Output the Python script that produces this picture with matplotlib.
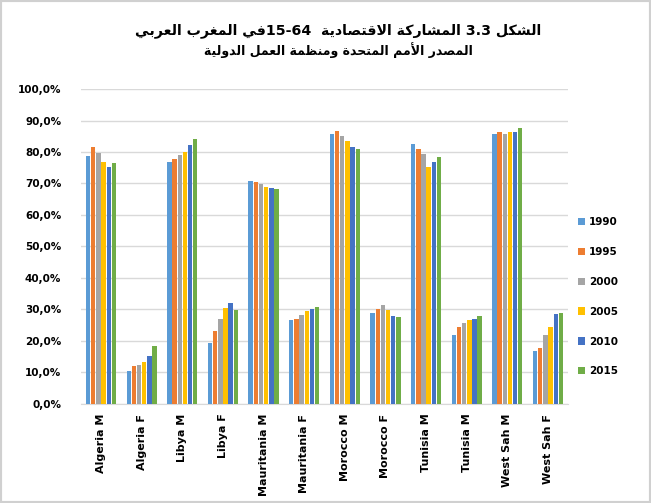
import re
import matplotlib
matplotlib.use('Agg')
import matplotlib.pyplot as plt
import numpy as np

# data (labour force participation, share)
CATEGORIES = ['Algeria M', 'Algeria F', 'Libya M', 'Libya F', 'Mauritania M', 'Mauritania F',
              'Morocco M', 'Morocco F', 'Tunisia M', 'Tunisia M', 'West Sah M', 'West Sah F']
YEARS = ['1990', '1995', '2000', '2005', '2010', '2015']
V1990 = [78.7, 10.3, 76.9, 19.3, 70.8, 26.5, 85.7, 28.8, 82.4, 21.8, 85.7, 16.8]
V1995 = [81.7, 11.9, 77.7, 23.0, 70.6, 27.1, 86.8, 30.0, 81.0, 24.3, 86.5, 17.7]
V2000 = [79.8, 12.4, 79.0, 26.9, 69.7, 28.1, 85.2, 31.3, 79.4, 25.6, 85.7, 21.8]
V2005 = [76.9, 13.4, 80.1, 30.4, 69.0, 29.5, 83.6, 29.8, 75.1, 26.5, 86.5, 24.5]
V2010 = [75.3, 15.3, 82.1, 32.0, 68.7, 30.3, 81.7, 27.9, 76.8, 27.1, 86.2, 28.5]
V2015 = [76.4, 18.4, 84.0, 29.8, 68.3, 30.9, 81.0, 27.6, 78.4, 27.9, 87.5, 29.0]
SERIES = [V1990, V1995, V2000, V2005, V2010, V2015]
COLORS = ['#5B9BD5', '#ED7D31', '#A5A5A5', '#FFC000', '#4472C4', '#70AD47']
YTICKS = [0, 10, 20, 30, 40, 50, 60, 70, 80, 90, 100]

TITLE = 'الشكل 3.3 المشاركة الاقتصادية  15-64في المغرب العربي'
SUBTITLE = 'المصدر الأمم المتحدة ومنظمة العمل الدولية'

# minimal Arabic shaping: (isolated, final, initial, medial)
FORMS = {
    'ا': (0xFE8D, 0xFE8E, None, None), 'أ': (0xFE83, 0xFE84, None, None),
    'ب': (0xFE8F, 0xFE90, 0xFE91, 0xFE92), 'ة': (0xFE93, 0xFE94, None, None),
    'ت': (0xFE95, 0xFE96, 0xFE97, 0xFE98), 'ح': (0xFEA1, 0xFEA2, 0xFEA3, 0xFEA4),
    'د': (0xFEA9, 0xFEAA, None, None), 'ر': (0xFEAD, 0xFEAE, None, None),
    'ش': (0xFEB5, 0xFEB6, 0xFEB7, 0xFEB8), 'ص': (0xFEB9, 0xFEBA, 0xFEBB, 0xFEBC),
    'ظ': (0xFEC5, 0xFEC6, 0xFEC7, 0xFEC8), 'ع': (0xFEC9, 0xFECA, 0xFECB, 0xFECC),
    'غ': (0xFECD, 0xFECE, 0xFECF, 0xFED0), 'ف': (0xFED1, 0xFED2, 0xFED3, 0xFED4),
    'ق': (0xFED5, 0xFED6, 0xFED7, 0xFED8), 'ك': (0xFED9, 0xFEDA, 0xFEDB, 0xFEDC),
    'ل': (0xFEDD, 0xFEDE, 0xFEDF, 0xFEE0), 'م': (0xFEE1, 0xFEE2, 0xFEE3, 0xFEE4),
    'ن': (0xFEE5, 0xFEE6, 0xFEE7, 0xFEE8), 'و': (0xFEED, 0xFEEE, None, None),
    'ي': (0xFEF1, 0xFEF2, 0xFEF3, 0xFEF4),
}
LAM_ALEF = {'ا': (0xFEFB, 0xFEFC), 'أ': (0xFEF7, 0xFEF8)}


def shape_word(w):
    # contextual forms, still in logical order
    units = []
    i = 0
    while i < len(w):
        if w[i] == 'ل' and i + 1 < len(w) and w[i + 1] in LAM_ALEF:
            units.append(('LA', w[i + 1]))
            i += 2
        else:
            units.append(('C', w[i]))
            i += 1
    out = []
    for k, (kind, ch) in enumerate(units):
        prev_joins = k > 0 and units[k - 1][0] == 'C' and FORMS[units[k - 1][1]][2] is not None
        if kind == 'LA':
            iso, fin = LAM_ALEF[ch]
            out.append(chr(fin if prev_joins else iso))
            continue
        f = FORMS[ch]
        next_ok = k + 1 < len(units) and f[2] is not None
        if prev_joins and next_ok:
            out.append(chr(f[3]))
        elif prev_joins:
            out.append(chr(f[1]))
        elif next_ok:
            out.append(chr(f[2]))
        else:
            out.append(chr(f[0]))
    return ''.join(out)


def rtl(text):
    # shape, then put in visual (right-to-left) order, numbers kept left-to-right
    res, run = '', ''
    for c in text:
        if c in FORMS:
            run += c
        else:
            if run:
                res += shape_word(run)
                run = ''
            res += c
    if run:
        res += shape_word(run)
    res = res[::-1]
    return re.sub(r'[0-9][0-9.\-]*[0-9]', lambda m: m.group(0)[::-1], res)


plt.rcParams['font.family'] = ['DejaVu Sans']
fig = plt.figure(figsize=(6.51, 5.03), dpi=100)
ax = fig.add_axes([0.124, 0.197, 0.749, 0.626])

x = np.arange(len(CATEGORIES))
w = 0.127
for i, (vals, col, yr) in enumerate(zip(SERIES, COLORS, YEARS)):
    ax.bar(x + (i - 2.5) * w, np.array(vals) / 100, width=w * 0.85, color=col, label=yr, zorder=3)

ax.set_xlim(-0.5, len(CATEGORIES) - 0.5)
ax.set_ylim(0, 1.0)
ax.set_yticks([t / 100 for t in YTICKS])
ax.set_yticklabels([f'{t},0%' for t in YTICKS], fontsize=7.5, fontweight='bold')
ax.set_xticks(x)
ax.set_xticklabels(CATEGORIES, rotation=90, fontsize=8, fontweight='bold')
ax.tick_params(axis='y', length=0, pad=14)
ax.tick_params(axis='x', length=0, pad=7)
ax.grid(axis='y', color='#d9d9d9', linewidth=1, zorder=0)
for s in ['top', 'right', 'left']:
    ax.spines[s].set_visible(False)
ax.spines['bottom'].set_color('#d9d9d9')

leg = ax.legend(loc='center left', bbox_to_anchor=(1.0, 0.34), frameon=False,
                prop={'size': 7.5, 'weight': 'bold'}, handlelength=0.7, handleheight=0.7,
                handletextpad=0.4, labelspacing=1.9)

fig.text(0.52, 0.94, rtl(TITLE), ha='center', va='center', fontsize=10.2, fontweight='bold')
fig.text(0.52, 0.9, rtl(SUBTITLE), ha='center', va='center', fontsize=9, fontweight='bold')

fig.patches.append(plt.Rectangle((0, 0), 1, 1, transform=fig.transFigure, fill=False,
                                 edgecolor='#d0d0d0', linewidth=3))
fig.savefig('out.png', dpi=100)
